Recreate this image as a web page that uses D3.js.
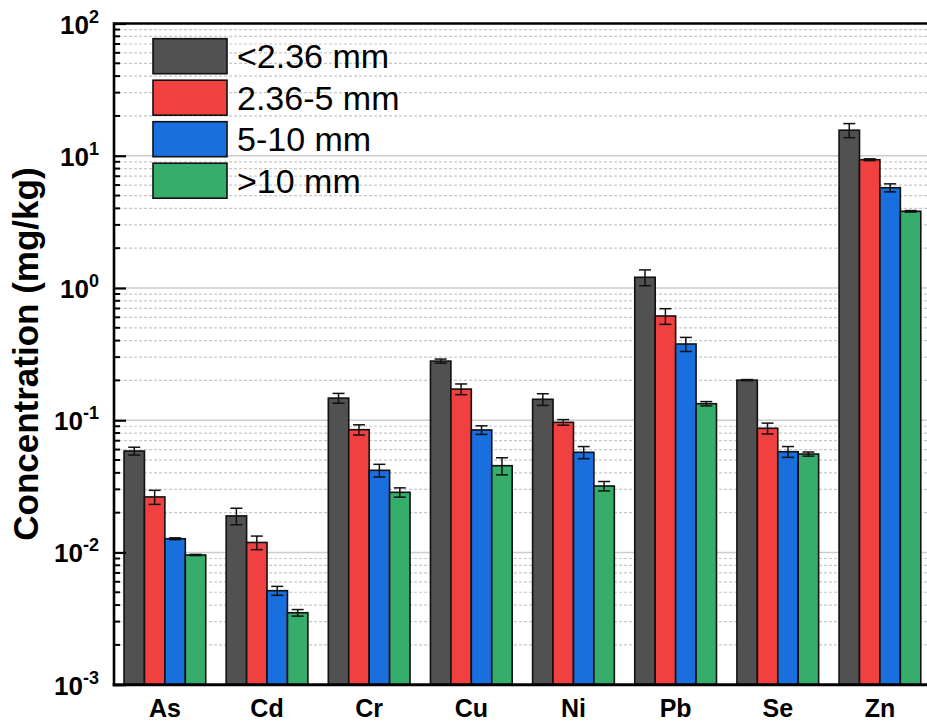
<!DOCTYPE html>
<html>
<head>
<meta charset="utf-8">
<script src="https://cdn.jsdelivr.net/npm/d3@7"></script>
<style>
  html, body { margin: 0; padding: 0; background: #fff; overflow: hidden; }
  svg { display: block; font-family: "Liberation Sans", Arial, sans-serif; }
</style>
</head>
<body>
<svg id="chart" width="927" height="724"></svg>
<script>
const categories = ["As", "Cd", "Cr", "Cu", "Ni", "Pb", "Se", "Zn"];
const seriesNames = ["<2.36 mm", "2.36-5 mm", "5-10 mm", ">10 mm"];
const seriesColors = ["#515151", "#F14040", "#1A6FDF", "#37AD6B"];

// values per series, in category order
const valsLt236 = [0.0585, 0.0189, 0.147, 0.280, 0.144, 1.205, 0.201, 15.6];
const vals236to5 = [0.0263, 0.0119, 0.0848, 0.172, 0.0964, 0.614, 0.0869, 9.33];
const vals5to10 = [0.0127, 0.00514, 0.0418, 0.0844, 0.0572, 0.377, 0.0578, 5.73];
const valsGt10 = [0.00957, 0.0035, 0.0285, 0.0453, 0.0318, 0.1333, 0.0555, 3.80];

// standard deviations (error bars)
const errLt236 = [0.004, 0.0027, 0.0125, 0.010, 0.0146, 0.165, 0.002, 1.9];
const err236to5 = [0.0032, 0.0014, 0.0075, 0.016, 0.0047, 0.083, 0.0082, 0.15];
const err5to10 = [0.0002, 0.0004, 0.0046, 0.0063, 0.006, 0.046, 0.0054, 0.4];
const errGt10 = [0.0001, 0.0002, 0.0023, 0.0067, 0.0026, 0.005, 0.002, 0.05];

const yTickValues = [1e-3, 1e-2, 1e-1, 1e0, 1e1, 1e2];
const yTickExponents = ["-3", "-2", "-1", "0", "1", "2"];
const yTitle = "Concentration (mg/kg)";

const allVals = [valsLt236, vals236to5, vals5to10, valsGt10];
const allErrs = [errLt236, err236to5, err5to10, errGt10];

const svg = d3.select("#chart");
const L = 114, R = 931, T = 23.5, B = 684.7;

const x = d3.scaleBand().domain(categories).range([L - 0.2, R]).paddingInner(0.2).paddingOuter(0.1);
const xs = d3.scaleBand().domain(d3.range(seriesNames.length)).range([0, x.bandwidth()]).padding(0);
const y = d3.scaleLog().domain([1e-3, 1e2]).range([B, T]);

// minor gridlines
const minor = [];
for (let e = -3; e < 2; e++) for (let m = 2; m <= 9; m++) minor.push(m * Math.pow(10, e));
svg.append("g").selectAll("line").data(minor).join("line")
  .attr("x1", L).attr("x2", 927)
  .attr("y1", d => y(d)).attr("y2", d => y(d))
  .attr("stroke", "#c8c8c8").attr("stroke-width", 1.2).attr("stroke-dasharray", "3,2");
// major gridlines
svg.append("g").selectAll("line").data(yTickValues.slice(1, -1)).join("line")
  .attr("x1", L).attr("x2", 927)
  .attr("y1", d => y(d)).attr("y2", d => y(d))
  .attr("stroke", "#cccccc").attr("stroke-width", 1.5);

// bars
const data = [];
categories.forEach((c, i) => {
  seriesNames.forEach((s, j) => {
    data.push({ c, j, v: allVals[j][i], e: allErrs[j][i] });
  });
});
const gBars = svg.append("g");
gBars.selectAll("rect").data(data).join("rect")
  .attr("x", d => x(d.c) + xs(d.j))
  .attr("width", xs.bandwidth())
  .attr("y", d => y(d.v))
  .attr("height", d => y(1e-3) - y(d.v))
  .attr("fill", d => seriesColors[d.j])
  .attr("stroke", "#111").attr("stroke-width", 1.6);

// error bars
const cap = 6;
const gErr = svg.append("g").attr("stroke", "#111").attr("stroke-width", 1.5);
data.forEach(d => {
  const cx = x(d.c) + xs(d.j) + xs.bandwidth() / 2;
  const y1 = y(d.v + d.e), y2 = y(Math.max(d.v - d.e, 1e-4));
  gErr.append("line").attr("x1", cx).attr("x2", cx).attr("y1", y1).attr("y2", y2);
  gErr.append("line").attr("x1", cx - cap).attr("x2", cx + cap).attr("y1", y1).attr("y2", y1);
  gErr.append("line").attr("x1", cx - cap).attr("x2", cx + cap).attr("y1", y2).attr("y2", y2);
});

// frame: top border
svg.append("line").attr("x1", L).attr("x2", 927).attr("y1", T).attr("y2", T)
  .attr("stroke", "#000").attr("stroke-width", 2.5);

// left axis with inward ticks
const yAxis = d3.axisRight(y).tickValues(yTickValues).tickSize(12).tickFormat("");
const gy = svg.append("g").attr("transform", `translate(${L},0)`).call(yAxis);
gy.select(".domain").remove();
gy.selectAll(".tick line").attr("stroke", "#000").attr("stroke-width", 2.2);
svg.append("g").selectAll("line").data(minor).join("line")
  .attr("x1", L).attr("x2", L + 6)
  .attr("y1", d => y(d)).attr("y2", d => y(d))
  .attr("stroke", "#000").attr("stroke-width", 2);
svg.append("line").attr("x1", L).attr("x2", L).attr("y1", T - 1.2).attr("y2", B + 1.5)
  .attr("stroke", "#000").attr("stroke-width", 2.6);

// tick labels
const gl = svg.append("g").attr("font-weight", "bold").attr("fill", "#000");
yTickValues.forEach((v, i) => {
  const t = gl.append("text").attr("x", 99).attr("y", y(v) + 10)
    .attr("text-anchor", "end").attr("font-size", 26);
  t.append("tspan").text("10");
  t.append("tspan").attr("dy", -11).attr("font-size", 18).text(yTickExponents[i]);
});

// bottom axis
const xAxis = d3.axisBottom(x).tickSize(0).tickPadding(0);
const gx = svg.append("g").attr("transform", `translate(0,${B})`).call(xAxis);
gx.select(".domain").remove();
gx.selectAll(".tick text").attr("y", 32).attr("dy", null)
  .attr("font-size", 25).attr("font-weight", "bold").attr("fill", "#000")
  .attr("font-family", "Liberation Sans, Arial, sans-serif");
svg.append("line").attr("x1", L - 1.3).attr("x2", 927).attr("y1", B).attr("y2", B)
  .attr("stroke", "#000").attr("stroke-width", 3);

// y title
svg.append("text").attr("transform", `translate(38,${(T + B) / 2}) rotate(-90)`)
  .attr("text-anchor", "middle").attr("font-size", 35).attr("font-weight", "bold")
  .text(yTitle);

// legend
const lg = svg.append("g").attr("transform", "translate(153,38.7)");
seriesNames.forEach((s, i) => {
  const row = lg.append("g").attr("transform", `translate(0,${i * 41.5})`);
  row.append("rect").attr("width", 74).attr("height", 35)
    .attr("fill", seriesColors[i]).attr("stroke", "#111").attr("stroke-width", 1.6);
  row.append("text").attr("x", 84).attr("y", 17.5).attr("dy", "0.36em")
    .attr("font-size", 34).attr("fill", "#000").text(s);
});
</script>
</body>
</html>
